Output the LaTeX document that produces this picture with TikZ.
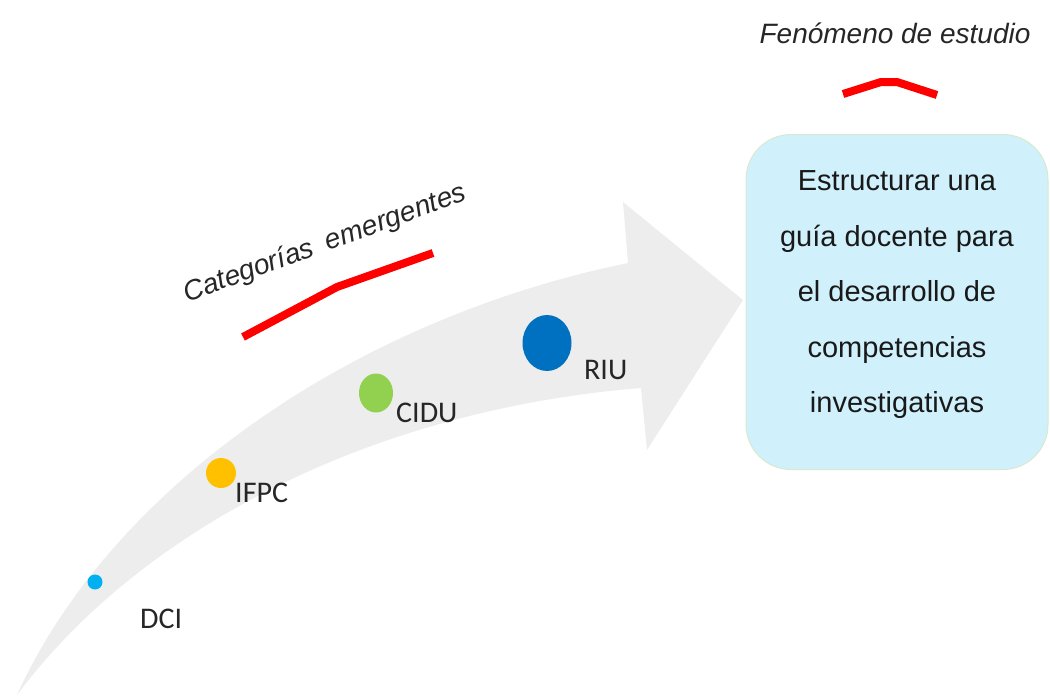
\documentclass[tikz,border=0pt]{standalone}
\usepackage{fontspec}
\setmainfont{Liberation Sans}
\newfontfamily\calibri{Carlito}
\usetikzlibrary{positioning,shapes.geometric}

\definecolor{arrowgray}{RGB}{237,237,237}
\definecolor{dcicyan}{RGB}{0,176,240}
\definecolor{ifpcgold}{RGB}{255,192,0}
\definecolor{cidugreen}{RGB}{146,208,80}
\definecolor{riublue}{RGB}{0,112,192}
\definecolor{goalfill}{RGB}{208,240,251}
\definecolor{goaledge}{RGB}{216,234,206}

\begin{document}
\begin{tikzpicture}[x=1pt, y=-1pt,
  dot/.style={ellipse, inner sep=0pt},
  catlabel/.style={font=\calibri\fontsize{30}{30}\selectfont, text=black!85, inner sep=0pt, anchor=base west},
  heading/.style={font=\itshape\fontsize{28}{28}\selectfont, text=black!85, inner sep=0pt},
  redmark/.style={red, line width=8pt, line join=round},
  goalbox/.style={rounded corners=45pt, fill=goalfill, draw=goaledge, line width=1pt,
    minimum width=302pt, minimum height=335pt, inner sep=0pt}]

  % Page frame, same size as the image
  \useasboundingbox (0,0) rectangle (1050,697);

  % Corner points of the big curved arrow
  \coordinate (tail) at (17,695);       % thin end, bottom left
  \coordinate (shafttop) at (628,263);  % upper edge meets head
  \coordinate (headtop) at (623,202);   % upper barb
  \coordinate (tip) at (743,300);       % point of the arrow
  \coordinate (headbot) at (647,450);   % lower barb
  \coordinate (shaftbot) at (641,388);  % lower edge meets head

  % Draw the grey curved arrow
  \fill[arrowgray] (tail) .. controls (110,490) and (350,320) .. (shafttop)
    -- (headtop) -- (tip) -- (headbot) -- (shaftbot)
    .. controls (370,410) and (140,530) .. cycle;

  % Coloured dots along the arrow
  \node[dot, fill=dcicyan, minimum width=15pt, minimum height=15pt] (dci) at (95,582) {};
  \node[dot, fill=ifpcgold, minimum width=30pt, minimum height=30pt] (ifpc) at (221,473) {};
  \node[dot, fill=cidugreen, minimum width=34pt, minimum height=39pt] (cidu) at (376,393) {};
  \node[dot, fill=riublue, minimum width=49pt, minimum height=56pt] (riu) at (547,343) {};

  % Category names beside the dots
  \node[catlabel] (dcilabel) at (140,628) {DCI};
  \node[catlabel] (ifpclabel) at (235,502) {IFPC};
  \node[catlabel] (cidulabel) at (396,422) {CIDU};
  \node[catlabel] (riulabel) at (584,379) {RIU};

  % Title over the arrow and its red stroke
  \node[heading, rotate=20] (cattitle) at (325,244) {Categorías\hspace{0.5em}emergentes};
  \draw[redmark] (243,337) -- (337,287) -- (433,253);

  % Goal box on the right
  \node[goalbox] (goal) at (897,302) {};
  \node[align=center, inner sep=0pt, text=black!90,
    font=\fontsize{29}{55.5}\selectfont] (goaltext) at (897,295)
    {Estructurar una\\guía docente para\\el desarrollo de\\competencias\\investigativas};

  % Heading over the box and its red caret
  \node[heading] (goaltitle) at (895,33) {Fenómeno de estudio};
  \draw[redmark] (843,94) -- (881,82) -- (897,82) -- (937,95);

\end{tikzpicture}
\end{document}
